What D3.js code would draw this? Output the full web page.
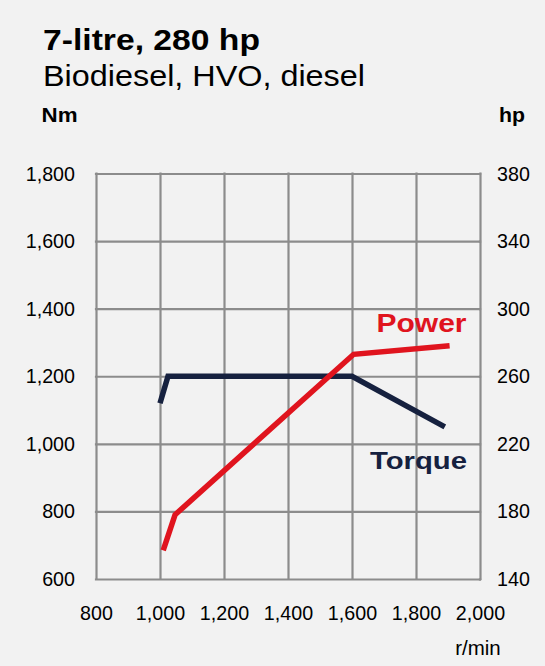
<!DOCTYPE html>
<html>
<head>
<meta charset="utf-8">
<script src="https://cdn.jsdelivr.net/npm/d3@7"></script>
<style>
  html, body { margin: 0; padding: 0; background: #f2f2f2; }
  svg { display: block; font-family: "Liberation Sans", Arial, sans-serif; }
</style>
</head>
<body>
<script>
// ---- Data ----
const rpmTicks = [800, 1000, 1200, 1400, 1600, 1800, 2000];
const nmTicks = [600, 800, 1000, 1200, 1400, 1600, 1800];
const hpTicks = [140, 180, 220, 260, 300, 340, 380];

const torqueRpm = [1000, 1025, 1600, 1890];
const torqueNm  = [1120, 1200, 1200, 1050];

const powerRpm = [1010, 1047, 1605, 1905];
const powerHp  = [157, 178, 273, 278];

const title = "7-litre, 280 hp";
const subtitle = "Biodiesel, HVO, diesel";

// ---- Layout ----
const W = 545, H = 666;
const mLeft = 96, mRight = 480, mTop = 173.5, mBottom = 579;
const gridColor = "#8c8c8c";
const red = "#e0141e";
const navy = "#16213f";

const svg = d3.select("body").append("svg").attr("width", W).attr("height", H);
svg.append("rect").attr("width", W).attr("height", H).attr("fill", "#f2f2f2");

const x = d3.scaleLinear().domain([800, 2000]).range([mLeft, mRight]);
const yL = d3.scaleLinear().domain([600, 1800]).range([mBottom, mTop]);
const yR = d3.scaleLinear().domain([140, 380]).range([mBottom, mTop]);

// Vertical grid + x labels
const gx = svg.append("g").attr("transform", `translate(0,${mBottom})`)
  .call(d3.axisBottom(x).tickValues(rpmTicks).tickSize(-(mBottom - mTop)).tickPadding(26).tickFormat(d3.format(",")));
// Horizontal grid + left labels
const gl = svg.append("g").attr("transform", `translate(${mLeft},0)`)
  .call(d3.axisLeft(yL).tickValues(nmTicks).tickSize(-(mRight - mLeft)).tickPadding(21).tickFormat(d3.format(",")));
// Right labels
const gr = svg.append("g").attr("transform", `translate(${mRight},0)`)
  .call(d3.axisRight(yR).tickValues(hpTicks).tickSize(0).tickPadding(17).tickFormat(d3.format(",")));

[gx, gl, gr].forEach(g => {
  g.select(".domain").remove();
  g.selectAll(".tick line").attr("stroke", gridColor).attr("stroke-width", 2.2)
    .attr("stroke-linecap", "square");
  g.selectAll(".tick text").attr("fill", "#000").attr("font-size", 20.5)
    .attr("font-family", "Liberation Sans, Arial, sans-serif")
    .each(function() {
      const w = this.getComputedTextLength();
      d3.select(this).attr("textLength", w * 0.96).attr("lengthAdjust", "spacingAndGlyphs");
    });
});

// Lines
svg.append("path")
  .datum(torqueRpm.map((r, i) => [r, torqueNm[i]]))
  .attr("d", d3.line().x(d => x(d[0])).y(d => yL(d[1])))
  .attr("fill", "none").attr("stroke", navy).attr("stroke-width", 5.5)
  .attr("stroke-linejoin", "miter");
svg.append("path")
  .datum(powerRpm.map((r, i) => [r, powerHp[i]]))
  .attr("d", d3.line().x(d => x(d[0])).y(d => yR(d[1])))
  .attr("fill", "none").attr("stroke", red).attr("stroke-width", 5.5)
  .attr("stroke-linejoin", "miter");

// Titles
svg.append("text").attr("x", 43).attr("y", 49.5).text(title)
  .attr("font-size", 29).attr("font-weight", "bold").attr("fill", "#000")
  .attr("textLength", 217).attr("lengthAdjust", "spacingAndGlyphs");
svg.append("text").attr("x", 43).attr("y", 86).text(subtitle)
  .attr("font-size", 29).attr("fill", "#000")
  .attr("textLength", 322).attr("lengthAdjust", "spacingAndGlyphs");

// Axis unit labels
svg.append("text").attr("x", 41.5).attr("y", 122).text("Nm")
  .attr("font-size", 20).attr("font-weight", "bold").attr("fill", "#000")
  .attr("textLength", 36).attr("lengthAdjust", "spacingAndGlyphs");
svg.append("text").attr("x", 499).attr("y", 122).text("hp")
  .attr("font-size", 20).attr("font-weight", "bold").attr("fill", "#000")
  .attr("textLength", 26).attr("lengthAdjust", "spacingAndGlyphs");
svg.append("text").attr("x", 478).attr("y", 655).text("r/min")
  .attr("font-size", 20.5).attr("fill", "#000").attr("text-anchor", "middle");

// Series labels
svg.append("text").attr("x", 376.5).attr("y", 332).text("Power")
  .attr("font-size", 25).attr("font-weight", "bold").attr("fill", red)
  .attr("textLength", 90).attr("lengthAdjust", "spacingAndGlyphs");
svg.append("text").attr("x", 370).attr("y", 468.5).text("Torque")
  .attr("font-size", 24).attr("font-weight", "bold").attr("fill", navy)
  .attr("textLength", 97).attr("lengthAdjust", "spacingAndGlyphs");
</script>
</body>
</html>
